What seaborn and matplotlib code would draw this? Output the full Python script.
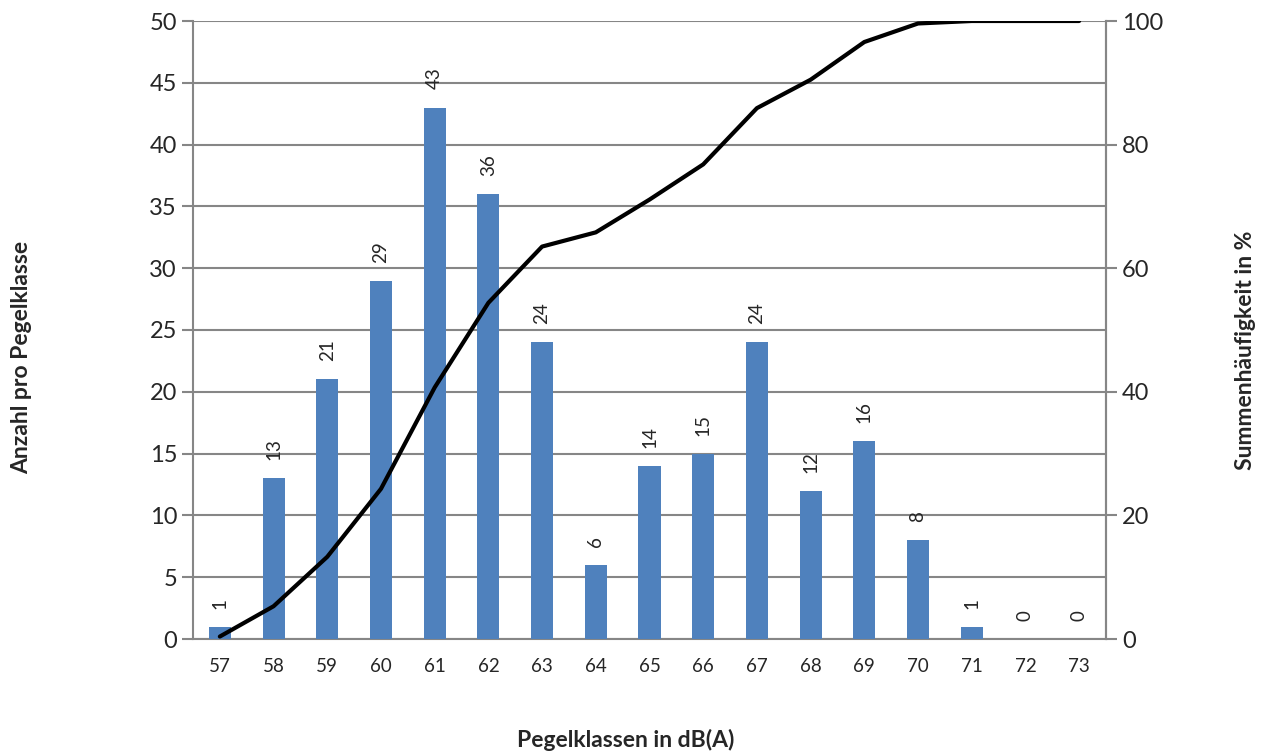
import numpy as np
import matplotlib
matplotlib.use("Agg")
import matplotlib.pyplot as plt
import seaborn as sns

# Pegelklassen und Anzahl pro Klasse
klassen = ["57", "58", "59", "60", "61", "62", "63", "64", "65", "66", "67", "68", "69", "70", "71", "72", "73"]
anzahl = [1, 13, 21, 29, 43, 36, 24, 6, 14, 15, 24, 12, 16, 8, 1, 0, 0]
# Summenhäufigkeit in %
summe_pct = [0.4, 5.3, 13.3, 24.3, 40.7, 54.4, 63.5, 65.8, 71.1, 76.8, 85.9, 90.5, 96.6, 99.6, 100, 100, 100]

sns.set_style("white")
plt.rcParams["font.family"] = ["Lato", "DejaVu Sans"]

grau = "#868686"
blau = "#4F81BD"

fig = plt.figure(figsize=(12.66, 7.56), dpi=100)
ax = fig.add_axes([193 / 1266, 1 - 639 / 756, (1106 - 193) / 1266, (639 - 21) / 756])

sns.barplot(x=klassen, y=anzahl, color=blau, width=0.41, saturation=1, linewidth=0, ax=ax, zorder=3)
ax.set_xlim(-0.5, len(klassen) - 0.5)
ax.set_ylim(0, 50)
ax.set_yticks(range(0, 51, 5))
ax.yaxis.grid(True, color=grau, linewidth=1.5, zorder=0)
ax.set_axisbelow(True)

for i, v in enumerate(anzahl):
    ax.annotate(str(v), (i, v), xytext=(0, 13), textcoords="offset points",
                rotation=90, ha="center", va="bottom", fontsize=13.5)

ax.set_xticks(np.arange(len(klassen) + 1) - 0.5, minor=True)
ax.tick_params(axis="x", which="major", length=0, labelsize=13.5, pad=14)
ax.tick_params(axis="x", which="minor", length=7, width=1.5, color=grau, direction="out")
ax.tick_params(axis="y", length=8, width=1.5, color=grau, labelsize=17, direction="out", left=True)
ax.set_xlabel("")
ax.set_ylabel("")

for s in ["left", "bottom", "right"]:
    ax.spines[s].set_color(grau)
    ax.spines[s].set_linewidth(1.5)
ax.spines["top"].set_visible(False)

ax2 = ax.twinx()
sns.lineplot(x=np.arange(len(klassen)), y=summe_pct, color="black", linewidth=3, ax=ax2)
ax2.set_ylim(0, 100)
ax2.set_yticks(range(0, 101, 20))
ax2.tick_params(axis="y", length=8, width=1.5, color=grau, labelsize=17, direction="out", right=True)
ax2.set_ylabel("")
for s in ["left", "bottom", "top"]:
    ax2.spines[s].set_visible(False)
ax2.spines["right"].set_color(grau)
ax2.spines["right"].set_linewidth(1.5)

fig.text(22 / 1266, 1 - 357 / 756, "Anzahl pro Pegelklasse", rotation=90, ha="center", va="center",
         fontsize=16.5, fontweight="bold")
fig.text(1245 / 1266, 1 - 350 / 756, "Summenhäufigkeit in %", rotation=90, ha="center", va="center",
         fontsize=16.5, fontweight="bold")
fig.text(626 / 1266, 1 - 740 / 756, "Pegelklassen in dB(A)", ha="center", va="center",
         fontsize=16.5, fontweight="bold")

fig.savefig("out.png", dpi=100)
